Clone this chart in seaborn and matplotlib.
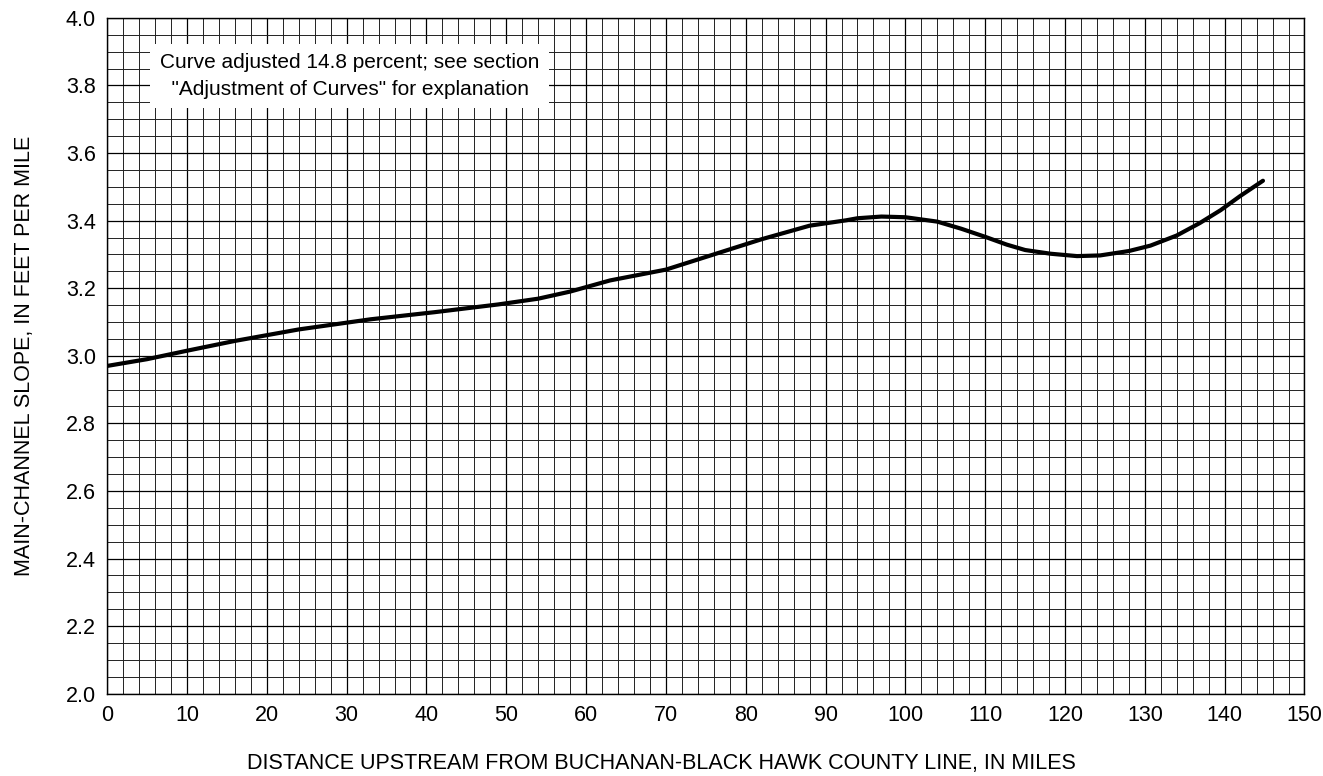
import numpy as np
import matplotlib
matplotlib.use("Agg")
import matplotlib.pyplot as plt
import seaborn as sns

# datos
distancia = [0, 5, 10, 16, 24, 33, 41, 49, 54, 58, 63, 70, 76, 82, 88, 92.6,
             94, 97, 100, 104, 107, 110, 112.7, 115, 118.2, 121.5, 124.4, 128,
             130.7, 134, 136.9, 139.5, 141.9, 144.8]
pendiente = [2.97, 2.99, 3.015, 3.044, 3.078, 3.108, 3.129, 3.152, 3.169, 3.19,
             3.223, 3.255, 3.30, 3.345, 3.385, 3.401, 3.407, 3.412, 3.41, 3.397,
             3.376, 3.352, 3.329, 3.313, 3.302, 3.295, 3.297, 3.31, 3.326, 3.356,
             3.393, 3.431, 3.472, 3.518]

x_ticks = list(range(0, 151, 10))
y_ticks = [2.0, 2.2, 2.4, 2.6, 2.8, 3.0, 3.2, 3.4, 3.6, 3.8, 4.0]

sns.set_theme(style="white")
plt.rcParams["font.family"] = ["Liberation Sans", "DejaVu Sans"]
plt.rcParams["text.color"] = "black"
plt.rcParams["axes.labelcolor"] = "black"
plt.rcParams["xtick.color"] = "black"
plt.rcParams["ytick.color"] = "black"

fig = plt.figure(figsize=(13.23, 7.76), dpi=100)
ax = fig.add_axes([0.081, 0.106, 0.905, 0.871])

sns.lineplot(x=distancia, y=pendiente, color="black", linewidth=3, ax=ax, zorder=5)

ax.set_xlim(0, 150)
ax.set_ylim(2.0, 4.0)
ax.set_xticks(x_ticks)
ax.set_yticks(y_ticks)
ax.set_xticks(np.arange(0, 151, 2), minor=True)
ax.set_yticks(np.arange(2.0, 4.001, 0.05), minor=True)
ax.set_xticklabels([str(t) for t in x_ticks], fontsize=15.5)
ax.set_yticklabels([f"{t:.1f}" for t in y_ticks], fontsize=15.5)
ax.tick_params(which="both", length=0)
ax.tick_params(axis="x", pad=8)
ax.tick_params(axis="y", pad=8)
ax.grid(which="major", color="black", linewidth=0.9)
ax.grid(which="minor", color="#222222", linewidth=0.7)
for s in ax.spines.values():
    s.set_color("black")
    s.set_linewidth(1.0)

ax.set_xlabel("DISTANCE UPSTREAM FROM BUCHANAN-BLACK HAWK COUNTY LINE, IN MILES",
              fontsize=15.5)
ax.xaxis.set_label_coords(0.463, -0.088)
ax.set_ylabel("MAIN-CHANNEL SLOPE, IN FEET PER MILE", fontsize=15.5, labelpad=22)

ax.text(6.6, 3.828, "Curve adjusted 14.8 percent; see section\n"
        "  \"Adjustment of Curves\" for explanation",
        fontsize=15, va="center", ha="left", linespacing=1.48, zorder=6,
        bbox=dict(facecolor="white", edgecolor="none", pad=7))

fig.savefig("out.png", dpi=100)
